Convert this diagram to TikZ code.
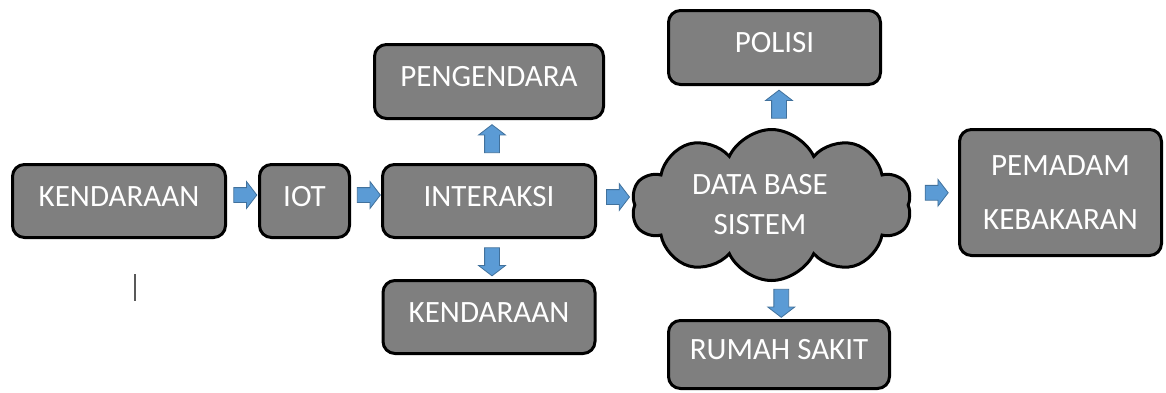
\documentclass[tikz,border=0pt]{standalone}
\usepackage{fontspec}
\setmainfont{Carlito}
\usepackage{tikz}
\usetikzlibrary{positioning,shapes.symbols,shapes.arrows}
\definecolor{tilegray}{HTML}{7F7F7F}
\definecolor{arrowblue}{HTML}{5B9BD5}
\definecolor{arrowedge}{HTML}{41719C}
\tikzset{
  every picture/.append style={line width=3pt},
  tile/.style={draw=black, fill=tilegray, rounded corners=12pt, text=white,
               inner sep=0pt, font=\fontsize{31}{37}\selectfont},
  box/.style={tile, text height=20pt, text depth=10pt},
  bluearrow/.style={single arrow, draw=arrowedge, fill=arrowblue, line width=0.8pt,
                    minimum height=23pt, inner xsep=0pt, inner ysep=7pt,
                    single arrow head extend=6pt, single arrow tip angle=105},
  uparrow/.style={bluearrow, minimum height=28pt, rotate=90},
  downarrow/.style={bluearrow, minimum height=28pt, rotate=-90}
}

\begin{document}
\begin{tikzpicture}[x=1pt, y=-1pt, node distance=30pt]
\useasboundingbox (0,0) rectangle (1166,392);

% ============= Input chain =============
\node[box, minimum width=213pt, minimum height=73pt] (kend) at (119,201) {KENDARAAN};
\node[box, minimum width=90pt, minimum height=73pt, right=31pt of kend] (iot) {IOT};
\node[box, minimum width=213pt, minimum height=73pt, right=30pt of iot] (inter) {INTERAKSI};

\path (kend.east) -- node[bluearrow, yshift=6pt] {} (iot.west);
\path (iot.east) -- node[bluearrow, yshift=6pt] {} (inter.west);

% ============= Interaksi outputs =============
\node[box, minimum width=229pt, minimum height=74pt, above=43pt of inter] (peng) {PENGENDARA};
\node[box, minimum width=212pt, minimum height=73pt, below=40pt of inter] (kend2) {KENDARAAN};

\path (inter.north) -- node[xshift=3pt, uparrow] {} (peng.south);
\path (inter.south) -- node[xshift=3pt, downarrow] {} (kend2.north);

% ============= Data base =============
\node[tile, sharp corners, cloud, cloud puffs=10, cloud puff arc=130, cloud ignores aspect,
      minimum width=280pt, minimum height=151pt, align=center,
      font=\fontsize{31}{40}\selectfont] (db) at (771.5,205)
      {DATA BASE\hspace*{23pt}\\SISTEM\hspace*{23pt}};
\node[box, minimum width=212pt, minimum height=74pt] (polisi) at (774.5,47.5) {POLISI};
\node[box, minimum width=221pt, minimum height=68pt] (rs) at (779,354.5) {RUMAH SAKIT};
\node[tile, align=center, font=\fontsize{31}{54}\selectfont,
      minimum width=202pt, minimum height=126pt] (pem) at (1060.5,192.5) {PEMADAM\\KEBAKARAN};

\path (inter.east) -- node[bluearrow, yshift=6pt] {} (db.west);
\path (db.north) -- node[xshift=6pt, uparrow] {} (polisi.south);
\path (db.south) -- node[xshift=6pt, downarrow] {} (rs.north);
\path (db.east) -- node[bluearrow, yshift=6pt] {} (pem.west);

% stray cursor mark
\draw[line width=1.5pt, black!65] (135,274) -- (135,301);

\end{tikzpicture}
\end{document}
